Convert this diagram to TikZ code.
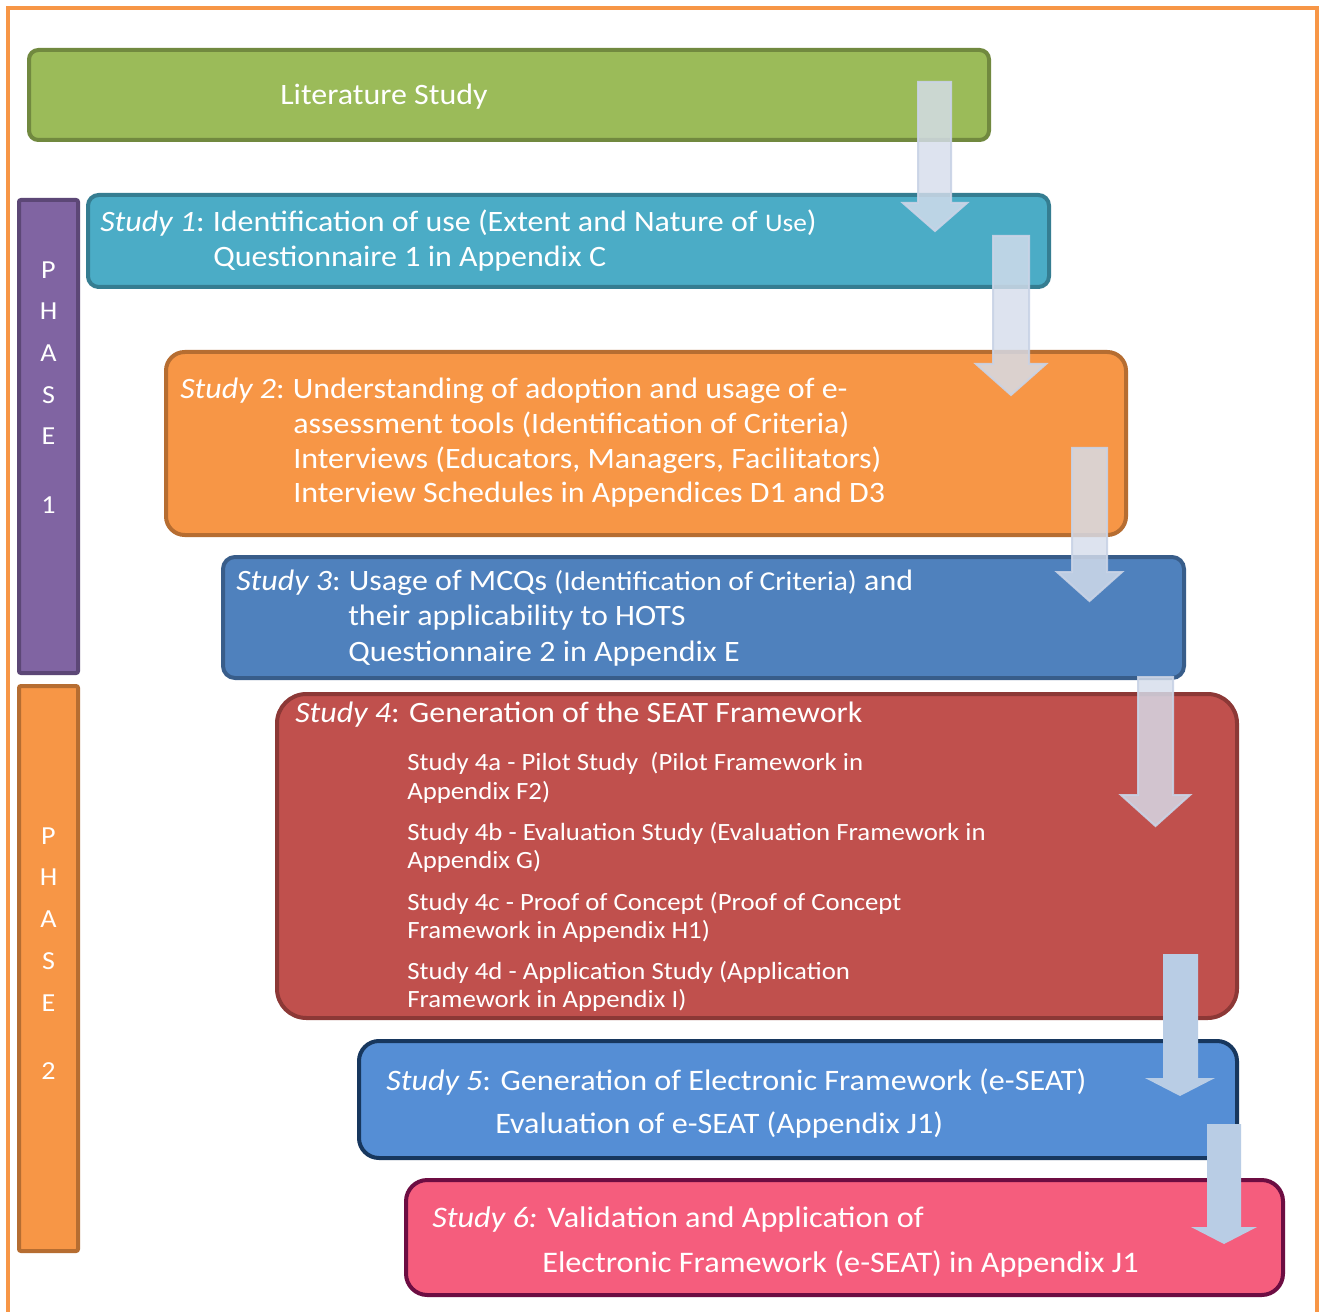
\documentclass[tikz,border=0pt]{standalone}
\usepackage{fontspec}
\setmainfont{Carlito}[FakeStretch=1.08]
\definecolor{frameor}{HTML}{F79646}
\definecolor{greenF}{HTML}{9BBB59}
\definecolor{greenD}{HTML}{71893F}
\definecolor{purpF}{HTML}{8064A2}
\definecolor{purpD}{HTML}{5C4776}
\definecolor{tealF}{HTML}{4BACC6}
\definecolor{tealD}{HTML}{357D91}
\definecolor{oranF}{HTML}{F79646}
\definecolor{oranD}{HTML}{B66D31}
\definecolor{blueF}{HTML}{4F81BD}
\definecolor{blueD}{HTML}{385D8A}
\definecolor{redF}{HTML}{C0504D}
\definecolor{redD}{HTML}{8C3836}
\definecolor{lblueF}{HTML}{558ED5}
\definecolor{lblueD}{HTML}{17375E}
\definecolor{pinkF}{HTML}{F55D7D}
\definecolor{pinkD}{HTML}{6D0D42}
\definecolor{arrF}{HTML}{D6DEEC}
\definecolor{arrD}{HTML}{C9D3E6}
\definecolor{arrS}{HTML}{B9CDE5}
\newcommand{\blockarr}[8]{%
  \path[#8] (#1,#3) -- (#2,#3) -- (#2,#4) -- (#6,#4) -- ({(#5+#6)/2},#7) -- (#5,#4) -- (#1,#4) -- cycle;}
\begin{document}
\begin{tikzpicture}[x=0.75pt,y=-0.75pt,
  boxframe/.style={line width=3pt},
  wtxt/.style={text=white, inner sep=0pt, anchor=base west, font=\fontsize{22.2pt}{26pt}\selectfont},
  subtxt/.style={text=white, inner sep=0pt, anchor=base west, font=\fontsize{18.6pt}{22pt}\selectfont},
  phtxt/.style={text=white, inner sep=0pt, anchor=base, align=center, font=\fontsize{19.5pt}{31.3pt}\selectfont},
  softarrow/.style={fill=arrF, fill opacity=0.82, draw=arrD, draw opacity=0.9, line width=1.5pt},
  solidarrow/.style={fill=arrS}]
\useasboundingbox (0,0) rectangle (1325,1312);
\fill[white] (0,0) rectangle (1325,1312);
% outer frame (open at the bottom)
\draw[frameor, line width=3pt] (8,1312) -- (8,8) -- (1317,8) -- (1317,1312);

% literature
\path[boxframe, fill=greenF, draw=greenD, rounded corners=7pt] (29,50) rectangle (989,140);
\node[wtxt] (lit) at (280,105) {Literature Study};

% phases
\path[boxframe, fill=purpF, draw=purpD, rounded corners=1.5pt] (19,200) rectangle (78,673);
\node[phtxt] (ph1) at (48.5,445) {P\\H\\A\\S\\E};
\node[phtxt] (ph1n) at (48.5,513) {1};
\path[boxframe, fill=oranF, draw=oranD, rounded corners=1.5pt] (19,686) rectangle (78,1251);
\node[phtxt] (ph2) at (48.5,1011) {P\\H\\A\\S\\E};
\node[phtxt] (ph2n) at (48.5,1079) {2};

% study 1
\path[boxframe, fill=tealF, draw=tealD, rounded corners=8pt] (88,195) rectangle (1049,287);
\node[wtxt] (s1a) at (100,232) {\textit{Study 1}:\kern-1pt{} Identification of use (Extent and Nature of {\fontsize{19pt}{22pt}\selectfont Use})};
\node[wtxt] (s1b) at (213,267) {Questionnaire 1 in Appendix C};

% study 2
\path[boxframe, fill=oranF, draw=oranD, rounded corners=14pt] (166,352) rectangle (1126,535);
\node[wtxt] (s2a) at (180,399) {\textit{Study 2}:\kern-1pt{} Understanding of adoption and usage of e-};
\node[wtxt] (s2b) at (293,434) {assessment tools (Identification of Criteria)};
\node[wtxt] (s2c) at (293,469) {Interviews (Educators, Managers, Facilitators)};
\node[wtxt] (s2d) at (293,503) {Interview Schedules in Appendices D1 and D3};

% study 3
\path[boxframe, fill=blueF, draw=blueD, rounded corners=9pt] (223,557) rectangle (1184,678);
\node[wtxt] (s3a) at (236,590) {\textit{Study 3}:\kern-1pt{} Usage of MCQs {\fontsize{20.5pt}{24pt}\selectfont(Identification of Criteria)} and};
\node[wtxt] (s3b) at (348,625) {their applicability to HOTS};
\node[wtxt] (s3c) at (348,661) {Questionnaire 2 in Appendix E};

% study 4
\path[boxframe, fill=redF, draw=redD, rounded corners=22pt] (277,694) rectangle (1237,1018);
\node[wtxt] (s4) at (295,722) {\textit{Study 4}: Generation of the SEAT Framework};
\node[subtxt] (s4a1) at (407,770) {Study 4a - Pilot Study~ (Pilot Framework in};
\node[subtxt] (s4a2) at (407,799) {Appendix F2)};
\node[subtxt] (s4b1) at (407,840) {Study 4b - Evaluation Study (Evaluation Framework in};
\node[subtxt] (s4b2) at (407,868) {Appendix G)};
\node[subtxt] (s4c1) at (407,910) {Study 4c - Proof of Concept (Proof of Concept};
\node[subtxt] (s4c2) at (407,938) {Framework in Appendix H1)};
\node[subtxt] (s4d1) at (407,979) {Study 4d - Application Study (Application};
\node[subtxt] (s4d2) at (407,1007) {Framework in Appendix I)};

% study 5
\path[boxframe, fill=lblueF, draw=lblueD, rounded corners=15pt] (359,1041) rectangle (1237,1158);
\node[wtxt, font=\fontsize{22.3pt}{26pt}\selectfont] (s5a) at (386,1090) {\textit{Study 5}: Generation of Electronic Framework (e-SEAT)};
\node[wtxt, font=\fontsize{22.3pt}{26pt}\selectfont] (s5b) at (495,1133) {Evaluation of e-SEAT (Appendix J1)};

% study 6
\path[boxframe, fill=pinkF, draw=pinkD, rounded corners=16pt] (406,1180) rectangle (1283,1295);
\node[wtxt, font=\fontsize{22.4pt}{26pt}\selectfont] (s6a) at (432,1227) {\textit{Study 6:} Validation and Application of};
\node[wtxt, font=\fontsize{22.4pt}{26pt}\selectfont] (s6b) at (542,1272) {Electronic Framework (e-SEAT) in Appendix J1};

% block arrows
\blockarr{918}{951}{82}{203}{903}{967}{231}{softarrow}
\blockarr{993}{1029}{236}{364}{976}{1046}{395}{softarrow}
\blockarr{1072}{1107}{448}{572}{1057}{1122}{601}{softarrow}
\blockarr{1138}{1173}{677}{795}{1121}{1190}{826}{softarrow}
\blockarr{1163}{1198}{954}{1078}{1145}{1215}{1096}{solidarrow}
\blockarr{1207}{1241}{1124}{1227}{1191}{1257}{1244}{solidarrow}
\end{tikzpicture}
\end{document}
